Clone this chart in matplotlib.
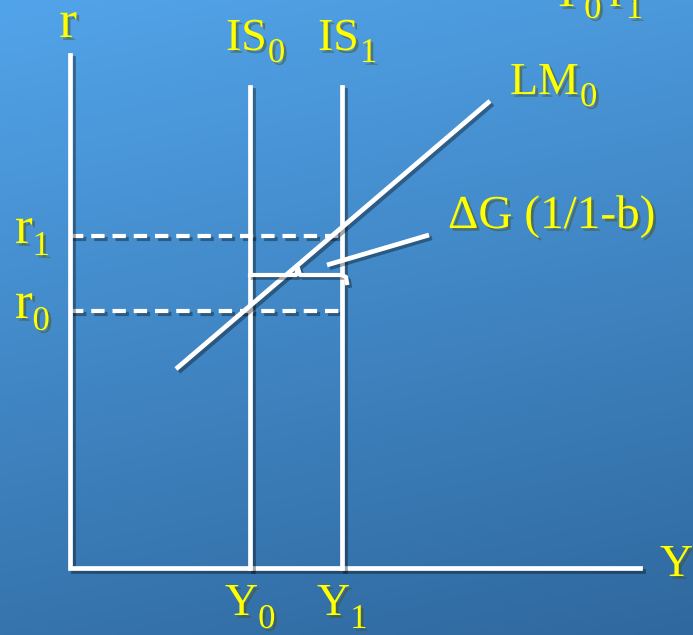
import numpy as np
import matplotlib
matplotlib.use("Agg")
import matplotlib.pyplot as plt
import matplotlib.patheffects as pe

plt.rcParams['font.family'] = ['Liberation Serif', 'DejaVu Serif']

# diagram values (origin of the r-Y axes at 0,0)
incomes = [180, 272]            # Y0, Y1 (IS0, IS1 positions)
income_labels = [('Y', '0'), ('Y', '1')]
is_labels = [('IS', '0'), ('IS', '1')]
rates = [257, 332]              # r0, r1
rate_labels = [('r', '0'), ('r', '1')]
is_top = 481
y_axis_end = 570
r_axis_end = 513

lm_x = [106, 420]
lm_y = [199, 467]

brace_x = [180, 226, 228, 230, 272, 276, 277]
brace_y = [293, 293, 300, 293, 293, 291, 285]

pointer_x = [257, 359]
pointer_y = [303, 333]

yellow = '#ffff00'
white = 'white'

fig = plt.figure(figsize=(6.93, 6.35), dpi=100)
ax = fig.add_axes([0, 0, 1, 1])
ax.set_xlim(-70, 623)
ax.set_ylim(-67, 568)
ax.axis('off')

# background gradient
gy, gx = np.mgrid[0:1:200j, 0:1:200j]
t = 0.8 * gy + 0.2 * gx
top = np.array([82, 164, 234]) / 255
bot = np.array([47, 104, 158]) / 255
img = top[None, None, :] * (1 - t[..., None]) + bot[None, None, :] * t[..., None]
ax.imshow(img, extent=[-70, 623, -67, 568], origin='upper', aspect='auto', zorder=0)

shadow = [pe.SimpleLineShadow(offset=(2, -2), alpha=0.35), pe.Normal()]
tshadow = [pe.withSimplePatchShadow(offset=(2, -2), alpha=0.45)]
lw = 3.4

# axes
ax.plot([0, 0, y_axis_end], [r_axis_end, 0, 0], color=white, lw=lw,
        solid_joinstyle='miter', path_effects=shadow, zorder=3)

# IS curves
for x in incomes:
    ax.plot([x, x], [0, is_top], color=white, lw=lw, path_effects=shadow, zorder=3)

# dashed rate lines
for r in rates:
    ax.plot([0, incomes[1]], [r, r], color=white, lw=3.0, dashes=(3.2, 1.9),
            path_effects=shadow, zorder=2)

# LM curve
ax.plot(lm_x, lm_y, color=white, lw=lw, solid_capstyle='butt',
        path_effects=shadow, zorder=4)

# brace and pointer
ax.plot(brace_x, brace_y, color=white, lw=3.0, path_effects=shadow, zorder=4)
ax.plot(pointer_x, pointer_y, color=white, lw=lw, solid_capstyle='butt',
        path_effects=shadow, zorder=4)

renderer = fig.canvas.get_renderer()


def sub_label(x, y, main, sub, fs=33, sfs=25, drop=12, gap=1):
    t = ax.text(x, y, main, color=yellow, fontsize=fs, ha='left', va='baseline',
                path_effects=tshadow)
    bb = t.get_window_extent(renderer).transformed(ax.transData.inverted())
    s = ax.text(bb.x1 + gap, y - drop, sub, color=yellow, fontsize=sfs, ha='left',
                va='baseline', path_effects=tshadow)
    return s.get_window_extent(renderer).transformed(ax.transData.inverted())


fs = 33
ax.text(-2, 531, 'r', color=yellow, fontsize=fs + 5, ha='center', va='baseline',
        path_effects=tshadow)
ax.text(y_axis_end + 20, -8, 'Y', color=yellow, fontsize=fs, ha='left', va='baseline',
        path_effects=tshadow)
for x, (m, s) in zip(incomes, is_labels):
    sub_label(x - 24, 518, m, s)
for x, (m, s) in zip(incomes, income_labels):
    sub_label(x - 25, -47, m, s, drop=13, gap=0)
for r, (m, s) in zip(rates, rate_labels):
    sub_label(-55, r - 7, m, s, fs=fs + 5, drop=12, gap=0)
sub_label(lm_x[1] + 20, lm_y[1] + 7, 'LM', '0')
ax.text(pointer_x[1] + 19, pointer_y[1] + 7, '\u0394G (1/1-b)', color=yellow,
        fontsize=fs + 1, ha='left', va='baseline', path_effects=tshadow)
bb = sub_label(480, 562, 'Y', '0')
sub_label(bb.x1 + 8, 562, 'r', '1')

fig.savefig('out.png', dpi=100)
